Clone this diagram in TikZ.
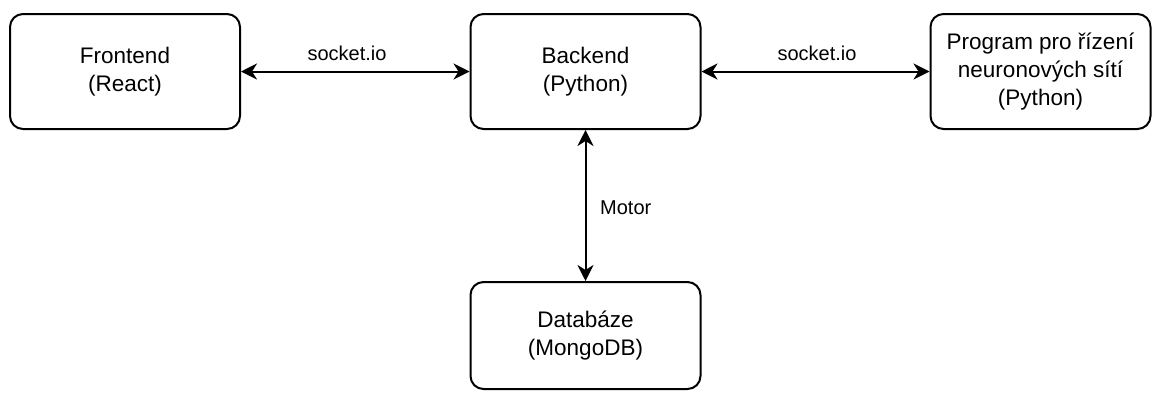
\documentclass[tikz,border=0pt]{standalone}
\usepackage{fontspec}
\setmainfont{Liberation Sans}
\usetikzlibrary{arrows.meta}
\begin{document}
\begin{tikzpicture}[x=1pt,y=-1pt,
  box/.style={draw, line width=2pt, rounded corners=13pt, align=center,
    inner sep=0pt, font=\fontsize{22.5}{28}\selectfont},
  conn/.style={line width=2pt, {Stealth[length=16pt,width=16pt,inset=5pt]}-{Stealth[length=16pt,width=16pt,inset=5pt]}},
  lbl/.style={font=\fontsize{20}{24}\selectfont, inner sep=0pt}]
\useasboundingbox (0,0) rectangle (1153,392);
\node[box, minimum width=230pt, minimum height=115pt] (fe) at (125,71.5) {Frontend\\(React)};
\node[box, minimum width=230pt, minimum height=115pt] (be) at (585.5,71.5) {Backend\\(Python)};
\node[box, minimum width=220pt, minimum height=115pt] (nn) at (1040.5,71.5) {Program pro řízení\\neuronových sítí\\(Python)};
\node[box, minimum width=230pt, minimum height=107pt] (db) at (585.5,335.5) {Databáze\\(MongoDB)};
\draw[conn] (fe.east) -- (be.west);
\draw[conn] (be.east) -- (nn.west);
\draw[conn] (be.south) -- (db.north);
\node[lbl, anchor=base] (l1) at (347,60) {socket.io};
\node[lbl, anchor=base] (l2) at (817,60) {socket.io};
\node[lbl, anchor=base west] (l3) at (600,214) {Motor};
\end{tikzpicture}
\end{document}
